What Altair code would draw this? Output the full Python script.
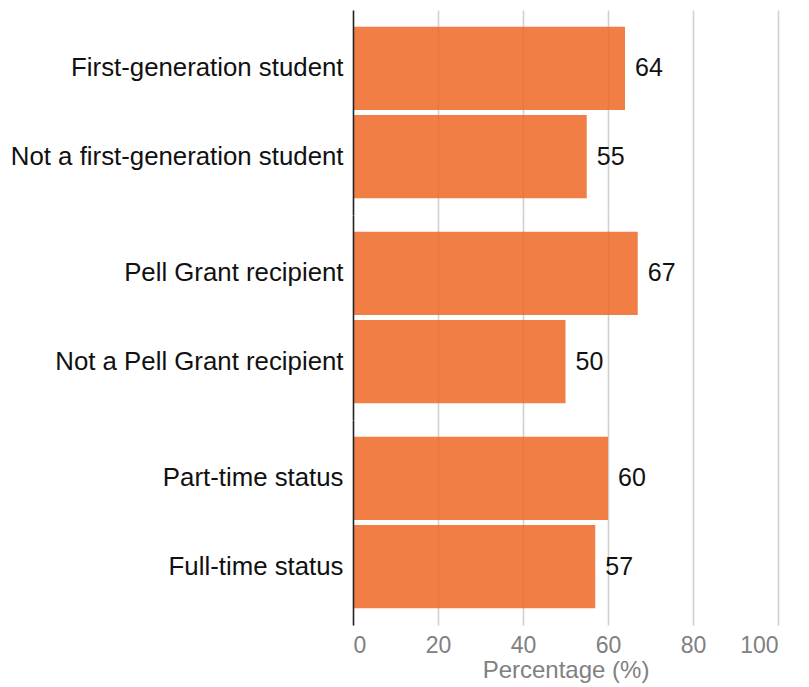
import altair as alt
import pandas as pd

categories = [
    "First-generation student",
    "Not a first-generation student",
    "Pell Grant recipient",
    "Not a Pell Grant recipient",
    "Part-time status",
    "Full-time status",
]
groups = ["Generation", "Generation", "Pell", "Pell", "Status", "Status"]
values = [64, 55, 67, 50, 60, 57]
group_order = ["Generation", "Pell", "Status"]
x_ticks = [0, 20, 40, 60, 80, 100]

df = pd.DataFrame({"category": categories, "group": groups, "value": values})

BAR = "#ED6724"
GRID = "#d0d0d0"
FONT = "Liberation Sans"


def panel(g, bottom):
    sub = df[df["group"] == g]
    order = sub["category"].tolist()
    if bottom:
        xaxis = alt.Axis(values=x_ticks, grid=True, gridColor=GRID, gridWidth=1.6,
                         domain=False, ticks=False, labelFontSize=23, labelColor="#808080",
                         labelPadding=9, title="Percentage (%)", titleFontSize=24,
                         titleColor="#808080", titleFontWeight="normal", titlePadding=1)
    else:
        xaxis = alt.Axis(values=x_ticks, grid=True, gridColor=GRID, gridWidth=1.6,
                         domain=False, ticks=False, labels=False, title=None)
    x = alt.X("value:Q", scale=alt.Scale(domain=[0, 100], nice=False), axis=xaxis)
    y = alt.Y("category:N", sort=order,
              scale=alt.Scale(paddingInner=0.057, paddingOuter=0.19),
              axis=alt.Axis(title=None, ticks=False, domain=True, domainColor="#222222",
                            domainWidth=1.5, labelFontSize=25.8, labelColor="#111111",
                            labelPadding=10, labelLimit=400, zindex=1))
    bars = alt.Chart(sub).mark_bar(color=BAR, opacity=0.85).encode(x=x, y=y)
    text = alt.Chart(sub).mark_text(align="left", baseline="middle", dx=10, fontSize=25,
                                    color="#111111").encode(
        x="value:Q", y=alt.Y("category:N", sort=order), text="value:Q")
    return (bars + text).properties(width=425, height=205)


chart = alt.vconcat(
    panel("Generation", False),
    panel("Pell", False),
    panel("Status", True),
    spacing=0,
).properties(
    padding={"left": 2, "top": 2, "right": 5, "bottom": 2}
).configure(font=FONT).configure_view(stroke=None)

chart.save("out.html", embed_options={"renderer": "svg", "actions": False})
